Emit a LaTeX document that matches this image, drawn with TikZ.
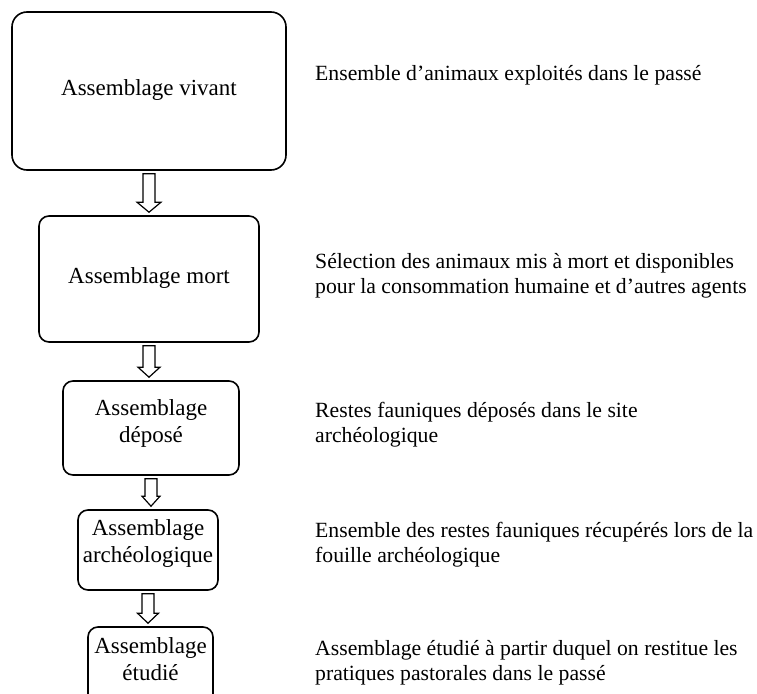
\documentclass[tikz,border=0pt]{standalone}
\usepackage{fontspec}
\setmainfont{Liberation Serif}
\usetikzlibrary{calc}
\newcommand\blockarrow[3]{%
  \draw[blk] let \p1=($(#1.south)+(0,3)$), \p2=($(#2.north)+(0,-3)$) in
   (\x1-6pt,\y1) -- (\x1+6pt,\y1) -- (\x1+6pt,\y2+10pt) -- (\x1+#3pt,\y2+10pt)
   -- (\x1,\y2) -- (\x1-#3pt,\y2+10pt) -- (\x1-6pt,\y2+10pt) -- cycle;}
\begin{document}
\begin{tikzpicture}[x=1pt,y=-1pt,
  box/.style={draw, line width=1.6pt, rounded corners=10pt, inner sep=0pt},
  blk/.style={draw, line width=1.2pt, fill=white, line join=miter},
  boxtxt/.style={font=\fontsize{23}{26.5}\selectfont, align=center, inner sep=0pt},
  desc/.style={font=\fontsize{21.7}{25}\selectfont, align=left, anchor=base west, inner sep=0pt}]
\useasboundingbox (0,0) rectangle (757,693);
\clip (0,0) rectangle (757,693);
\fill[white] (0,0) rectangle (757,693);
% boxes
\node[box, minimum width=274, minimum height=158, rounded corners=15pt] (a) at (149,91) {};
\node[box, minimum width=220, minimum height=126] (b) at (149,279) {};
\node[box, minimum width=176, minimum height=94] (c) at (151,428) {};
\node[box, minimum width=140, minimum height=80] (d) at (148,550) {};
\node[box, minimum width=125, minimum height=110] (e) at (150.5,682) {};
% box texts
\node[boxtxt] (ta) at (149,90) {Assemblage vivant};
\node[boxtxt] (tb) at (149,278) {Assemblage mort};
\node[boxtxt] (tc) at (151,423.5) {Assemblage\\déposé};
\node[boxtxt] (td) at (148,543.5) {Assemblage\\archéologique};
\node[boxtxt] (te) at (150.5,659) {Assemblage\\étudié};
% arrows
\blockarrow{a}{b}{12}
\blockarrow{b}{c}{11}
\blockarrow{c}{d}{9}
\blockarrow{d}{e}{10.5}
% descriptions (base anchor = baseline of the last line)
\node[desc] (da) at (315,80) {Ensemble d’animaux exploités dans le passé};
\node[desc] (db) at (315,293) {Sélection des animaux mis à mort et disponibles\\pour la consommation humaine et d’autres agents};
\node[desc] (dc) at (315,442) {Restes fauniques déposés dans le site\\archéologique};
\node[desc] (dd) at (315,562) {Ensemble des restes fauniques récupérés lors de la\\fouille archéologique};
\node[desc] (de) at (315,680) {Assemblage étudié à partir duquel on restitue les\\pratiques pastorales dans le passé};
\end{tikzpicture}
\end{document}
